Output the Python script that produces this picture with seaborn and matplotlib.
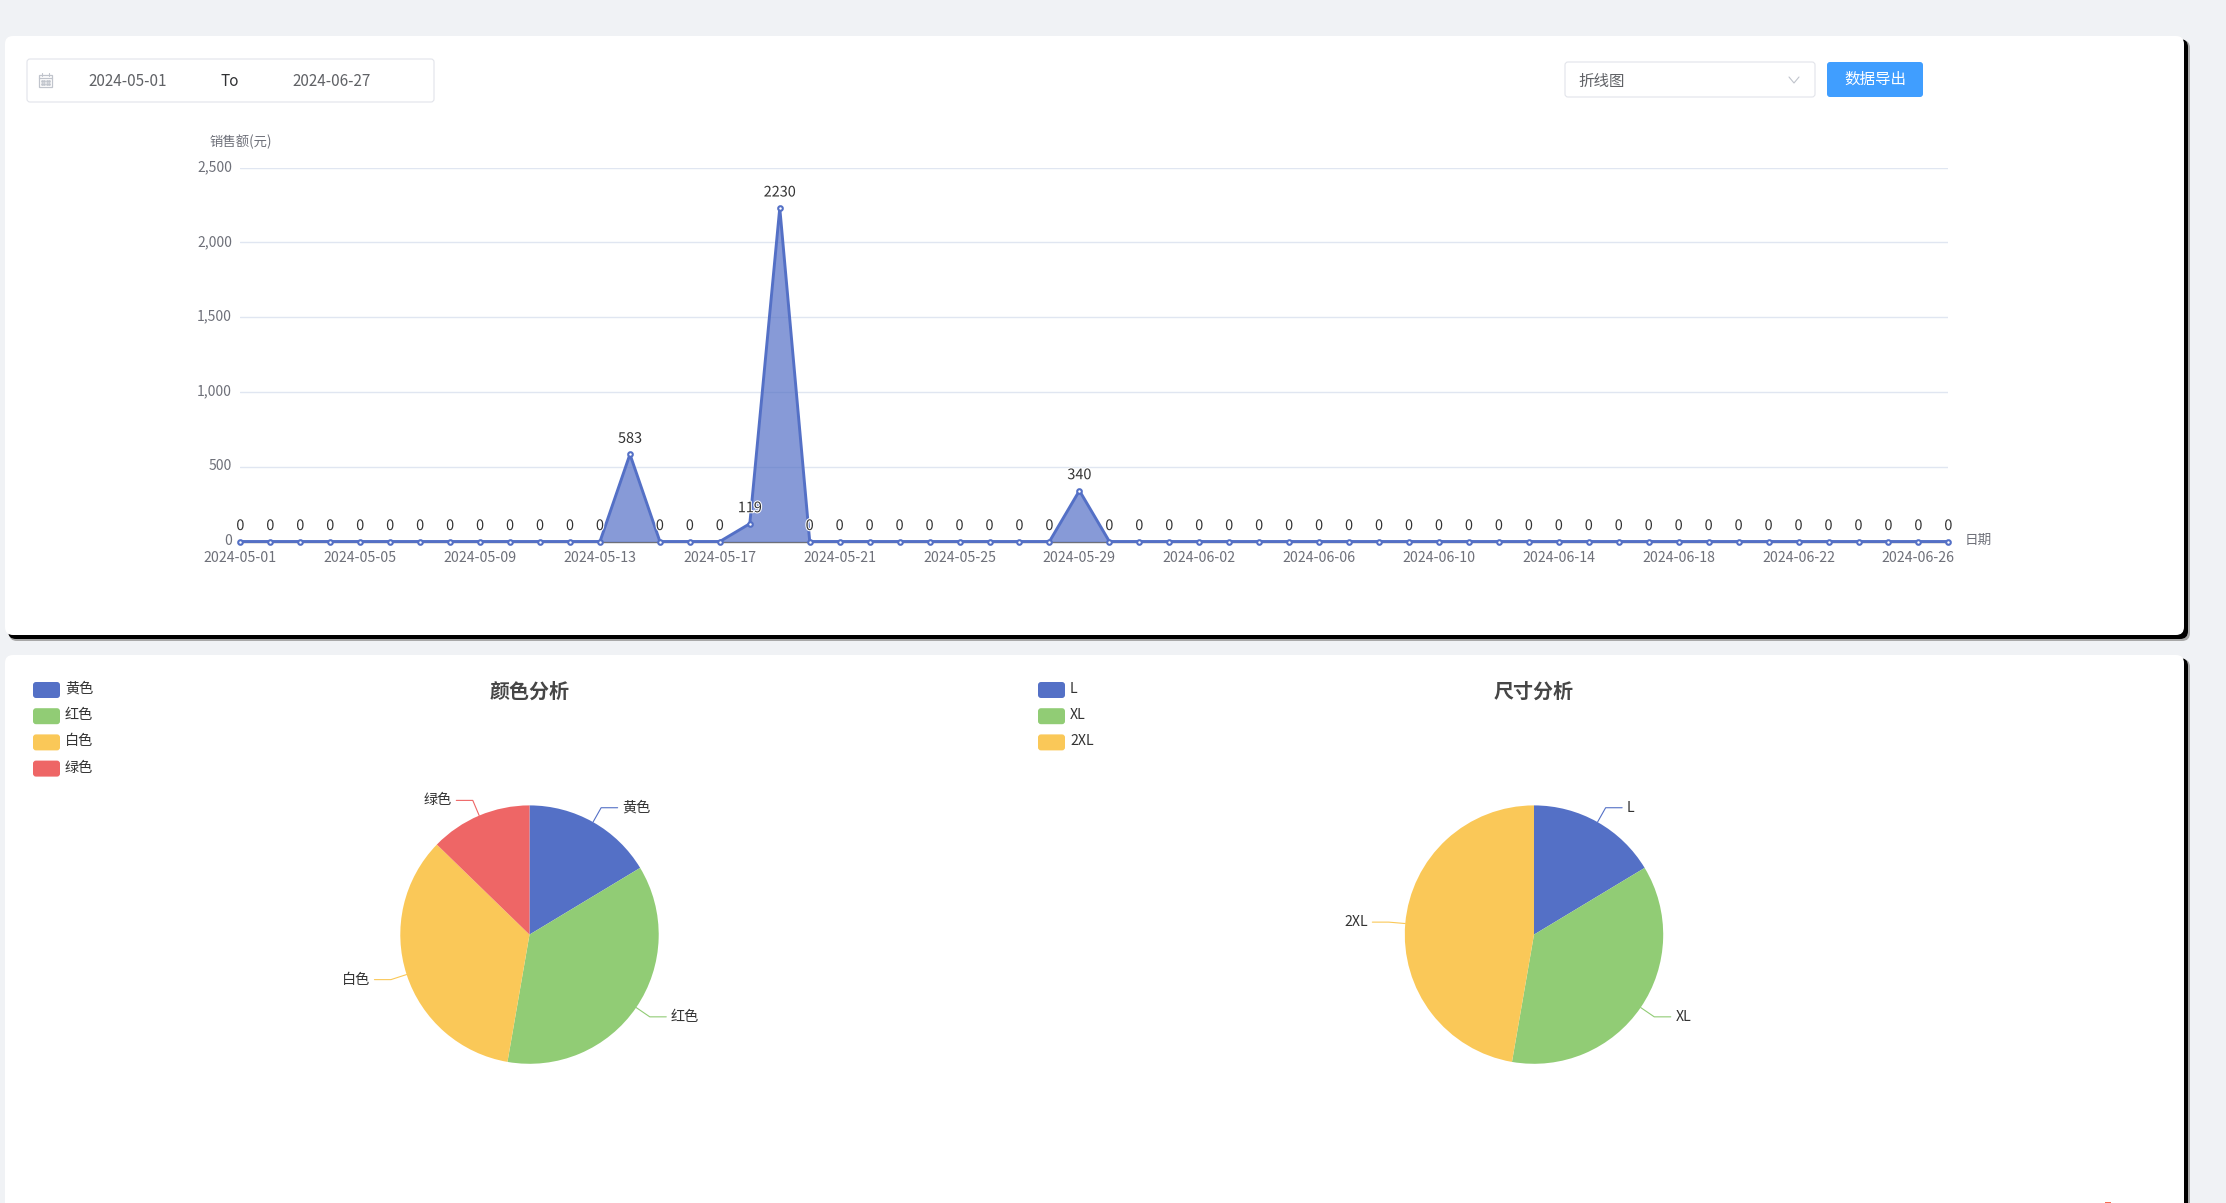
# Sales dashboard screenshot: line chart card plus two pie cards
import numpy as np
import pandas as pd
import matplotlib.pyplot as plt
import matplotlib.patheffects as pe
from matplotlib.patches import FancyBboxPatch, Rectangle
from matplotlib.transforms import ScaledTranslation
import seaborn as sns

W, H = 2226, 1203

dates = pd.date_range("2024-05-01", "2024-06-27").strftime("%Y-%m-%d").tolist()
sales = [0, 0, 0, 0, 0, 0, 0, 0, 0, 0, 0, 0, 0, 583, 0, 0, 0, 119, 2230, 0,
         0, 0, 0, 0, 0, 0, 0, 0, 340, 0, 0, 0, 0, 0, 0, 0, 0, 0, 0, 0,
         0, 0, 0, 0, 0, 0, 0, 0, 0, 0, 0, 0, 0, 0, 0, 0, 0, 0]
y_ticks = [0, 500, 1000, 1500, 2000, 2500]

color_names = ["黄色", "红色", "白色", "绿色"]
color_counts = [9, 20, 19, 7]
size_names = ["L", "XL", "2XL"]
size_counts = [9, 20, 26]

palette = sns.color_palette(["#5470c6", "#91cc75", "#fac858", "#ee6666"])
TEXT = "#6e7079"
DARK = "#333333"


# Axes placed by pixel box, y measured from the top of the image.
def pixel_axes(fig, left, top, right, bottom, **kwargs):
    return fig.add_axes([left / W, 1 - bottom / H, (right - left) / W, (bottom - top) / H], **kwargs)


def rounded(ax, x0, y0, x1, y1, radius, **kwargs):
    ax.add_patch(FancyBboxPatch((x0 + radius, y0 + radius), x1 - x0 - 2 * radius, y1 - y0 - 2 * radius,
                                boxstyle=f"round,pad={radius}", **kwargs))


def draw_card(ax, x0, y0, x1, y1):
    rounded(ax, x0 + 4, y0 + 4, x1 + 6, y1 + 6, 8, fc="#a8a8a8", ec="none")
    rounded(ax, x0 + 3, y0 + 3, x1 + 4, y1 + 4, 8, fc="black", ec="none")
    rounded(ax, x0, y0, x1, y1, 8, fc="white", ec="none")


def draw_calendar(ax):
    ax.add_patch(Rectangle((39, 75), 13, 12, fc="white", ec="#c0c4cc", lw=0.9))
    ax.plot([39, 52], [78, 78], color="#c0c4cc", lw=0.9)
    ax.plot([42, 42], [73, 76], color="#c0c4cc", lw=0.8)
    ax.plot([49, 49], [73, 76], color="#c0c4cc", lw=0.8)
    for row in [81, 84]:
        ax.plot([42, 44, 47, 49], [row] * 4, ls="none", marker="s", ms=0.9, color="#c0c4cc")


def draw_controls(ax):
    rounded(ax, 27, 59, 434, 102, 3, fc="white", ec="#e2e4ea", lw=0.8)
    draw_calendar(ax)
    ax.text(128, 81, "2024-05-01", ha="center", va="center", fontsize=11, color="#606266")
    ax.text(230, 82, "To", ha="center", va="center", fontsize=11, color="#303133")
    ax.text(332, 81, "2024-06-27", ha="center", va="center", fontsize=11, color="#606266")

    rounded(ax, 1565, 62, 1815, 97, 3, fc="white", ec="#e2e4ea", lw=0.8)
    ax.text(1578, 81, "折线图", ha="left", va="center", fontsize=11.2, color="#606266")
    ax.plot([1789, 1794, 1799], [77, 83, 77], color="#c0c4cc", lw=0.8)
    rounded(ax, 1827, 62, 1923, 97, 3, fc="#409eff", ec="none")
    ax.text(1875, 79, "数据导出", ha="center", va="center", fontsize=11.2, color="white")
    # sliver of something orange cut off by the bottom of the screenshot
    ax.add_patch(Rectangle((2105, 1202), 6, 1, fc="#f56c4f", ec="none"))


def draw_line_chart(fig):
    ax = pixel_axes(fig, 240.4, 167.6, 1948.4, 541.5, facecolor="none")
    sns.lineplot(x=dates, y=sales, ax=ax, color=palette[0], lw=2.1, marker="o", ms=3.3, mfc="white",
                 mec=palette[0], mew=1.5, sort=False, clip_on=False, zorder=5)
    ax.fill_between(dates, sales, 0, color=palette[0], alpha=0.7, lw=0, zorder=4)

    ax.set_xlim(0, len(dates) - 1)
    ax.set_ylim(0, 2500)
    ax.set_yticks(y_ticks)
    ax.set_yticklabels([f"{v:,}" for v in y_ticks])
    ax.set_xticks(dates[::4])
    ax.set_xlabel("")
    ax.set_ylabel("")
    ax.grid(axis="y", color="#e0e6f1", lw=1)
    ax.grid(axis="x", visible=False)
    ax.set_axisbelow(True)
    for side in ["top", "left", "right"]:
        ax.spines[side].set_visible(False)
    ax.spines["bottom"].set_color(TEXT)
    ax.spines["bottom"].set_linewidth(1)
    ax.tick_params(axis="x", length=5, width=0.8, color=TEXT, labelcolor=TEXT, labelsize=10.2, pad=2)
    ax.tick_params(axis="y", length=0, labelcolor=TEXT, labelsize=10, pad=6)

    # y labels sit a touch above their gridlines in the original
    nudge = ScaledTranslation(0, 2 / 100, fig.dpi_scale_trans)
    for label in ax.get_yticklabels():
        label.set_transform(label.get_transform() + nudge)

    # value above every point
    for day, value in zip(dates, sales):
        ax.annotate(str(value), (day, value), xytext=(0, 6.1), textcoords="offset points", ha="center", va="bottom",
                    fontsize=10.4, color=DARK, zorder=6, annotation_clip=False,
                    path_effects=[pe.withStroke(linewidth=1.5, foreground="white")])

    ax.annotate("销售额(元)", (0, 1), xycoords="axes fraction", xytext=(0, 13), textcoords="offset points",
                ha="center", va="bottom", fontsize=9.6, color=TEXT)
    ax.annotate("日期", (1, 0), xycoords="axes fraction", xytext=(12, 1), textcoords="offset points",
                ha="left", va="center", fontsize=9.8, color=TEXT)
    return ax


# Pie with leader lines worked out from each wedge's middle angle.
def draw_pie(fig, names, counts, cx, cy, title):
    r = 129.2
    colors = palette[:len(counts)]
    ax = pixel_axes(fig, cx - r, cy - r, cx + r, cy + r, facecolor="none")
    wedges, _ = ax.pie(counts, colors=colors, startangle=90, counterclock=False, radius=1,
                       wedgeprops={"linewidth": 0})
    ax.set_xlim(-1, 1)
    ax.set_ylim(-1, 1)

    step = 16.5 / r
    for wedge, name, col in zip(wedges, names, colors):
        ang = np.deg2rad((wedge.theta1 + wedge.theta2) / 2)
        ux, uy = np.cos(ang), np.sin(ang)
        side = 1 if ux >= 0 else -1
        xs = [ux, ux * (1 + step), ux * (1 + step) + side * step]
        ys = [uy, uy * (1 + step), uy * (1 + step)]
        ax.plot(xs, ys, color=col, lw=0.8, clip_on=False)
        ax.text(xs[-1] + side * 4.5 / r, ys[-1], name, ha="left" if side > 0 else "right", va="center",
                fontsize=10.2, color=DARK, clip_on=False)

    fig.text(cx / W, 1 - 691 / H, title, ha="center", va="center", fontsize=14.4, fontweight="bold", color="#464646")


def draw_legend(ax, names, x0, x1, text_x):
    for i, name in enumerate(names):
        y = 690 + i * 26.2
        rounded(ax, x0, y - 8, x1, y + 8, 3, fc=palette[i], ec="none")
        ax.text(text_x, y - 1, name, ha="left", va="center", fontsize=10.2, color=DARK)


def main():
    sns.set_theme(style="white")
    plt.rcParams["font.family"] = ["Noto Sans CJK SC", "DejaVu Sans"]

    fig = plt.figure(figsize=(W / 100, H / 100), dpi=100, facecolor="#f0f2f5")
    page = fig.add_axes([0, 0, 1, 1], facecolor="none")
    page.set_xlim(0, W)
    page.set_ylim(H, 0)
    page.axis("off")

    draw_card(page, 5, 36, 2184, 635)
    draw_card(page, 5, 655, 2184, 1260)
    draw_controls(page)

    draw_line_chart(fig)

    draw_pie(fig, color_names, color_counts, 529.5, 934.6, "颜色分析")
    draw_pie(fig, size_names, size_counts, 1534, 934.6, "尺寸分析")
    draw_legend(page, color_names, 33, 60, 65)
    draw_legend(page, size_names, 1038, 1065, 1070)

    fig.savefig("out.png", dpi=100, facecolor=fig.get_facecolor())


main()
